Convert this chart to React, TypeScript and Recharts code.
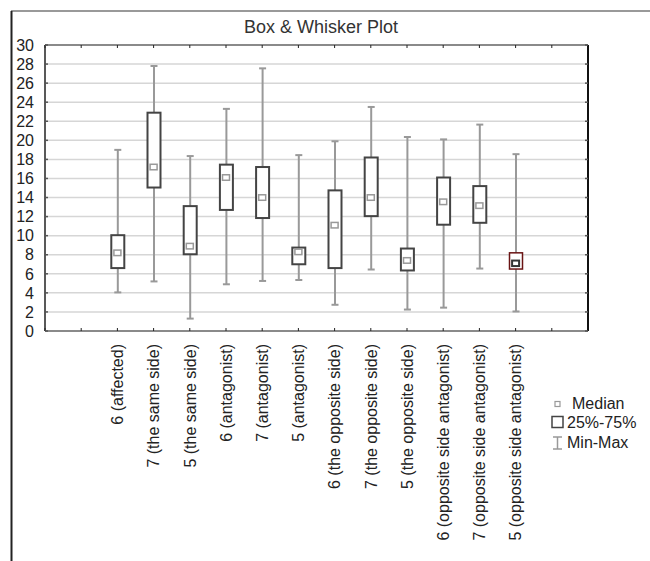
import React from 'react';
import { ComposedChart, Bar, Scatter, XAxis, YAxis, CartesianGrid } from 'recharts';

const categories = [
  '6 (affected)',
  '7 (the same side)',
  '5 (the same side)',
  '6 (antagonist)',
  '7 (antagonist)',
  '5 (antagonist)',
  '6 (the opposite side)',
  '7 (the opposite side)',
  '5 (the opposite side)',
  '6 (opposite side antagonist)',
  '7 (opposite side antagonist)',
  '5 (opposite side antagonist)',
];
const minValues = [4.05, 5.2, 1.3, 4.9, 5.25, 5.35, 2.75, 6.45, 2.25, 2.45, 6.55, 2.05];
const q1Values = [6.6, 15.05, 8.05, 12.7, 11.85, 7.0, 6.6, 12.05, 6.35, 11.15, 11.35, 6.5];
const medianValues = [8.2, 17.2, 8.9, 16.1, 14.0, 8.3, 11.1, 14.0, 7.4, 13.55, 13.15, 7.1];
const q3Values = [10.05, 22.9, 13.1, 17.45, 17.2, 8.75, 14.75, 18.2, 8.65, 16.1, 15.2, 8.2];
const maxValues = [19.0, 27.8, 18.35, 23.3, 27.55, 18.45, 19.9, 23.5, 20.35, 20.1, 21.65, 18.55];
const yTicks = [0, 2, 4, 6, 8, 10, 12, 14, 16, 18, 20, 22, 24, 26, 28, 30];
const leadingSlots = 2;
const xMax = categories.length + 3;
const xTicks = Array.from({ length: xMax + 1 }, (_, i) => i);
const highlightIndex = 11;

const data = categories.map((name, i) => ({
  pos: i + leadingSlots,
  name,
  range: [minValues[i], maxValues[i]],
  box: [q1Values[i], q3Values[i]],
  median: medianValues[i],
  highlight: i === highlightIndex,
}));

const FONT = '"Liberation Sans", Arial, sans-serif';

const Whisker = (p: any) => {
  const { x, y, width, height } = p;
  if (x == null || y == null) return null;
  const cx = x + width / 2;
  return (
    <g stroke="#999999" strokeWidth={2}>
      <line x1={cx} x2={cx} y1={y} y2={y + height} />
      <line x1={x} x2={x + width} y1={y} y2={y} />
      <line x1={x} x2={x + width} y1={y + height} y2={y + height} />
    </g>
  );
};

const BoxShape = (p: any) => {
  const { x, y, width, height, payload } = p;
  if (x == null || y == null) return null;
  const hl = payload && payload.highlight;
  return (
    <rect
      x={x}
      y={y}
      width={width}
      height={height}
      fill="#ffffff"
      stroke={hl ? '#6a1414' : '#444444'}
      strokeWidth={hl ? 1.5 : 2}
    />
  );
};

const MedianShape = (p: any) => {
  const { cx, cy, payload } = p;
  if (cx == null || cy == null) return null;
  const hl = payload && payload.highlight;
  return (
    <rect
      x={cx - 3.5}
      y={cy - 2.75}
      width={7}
      height={5.5}
      fill="#ffffff"
      stroke={hl ? '#333333' : '#999999'}
      strokeWidth={hl ? 2 : 1.5}
    />
  );
};

const BottomTick = (p: any) => {
  const { x, y, payload } = p;
  const label = categories[payload.value - leadingSlots];
  if (!label) return <g />;
  return (
    <text
      x={x}
      y={y}
      dy="0.36em"
      transform={`rotate(-90, ${x}, ${y})`}
      textAnchor="end"
      fontSize={16}
      fontFamily={FONT}
      fill="#222222"
    >
      {label}
    </text>
  );
};

const LeftTick = (p: any) => {
  const { x, y, payload } = p;
  return (
    <text x={x} y={y} dy="0.36em" textAnchor="end" fontSize={16} fontFamily={FONT} fill="#222222">
      {payload.value}
    </text>
  );
};

const EmptyTick = () => <g />;

export default function App() {
  return (
    <div style={{ position: 'absolute', left: 0, top: 0, width: 650, height: 561, background: '#fff', fontFamily: FONT }}>
      <div style={{ position: 'absolute', left: 0, top: 0 }}>
        <ComposedChart width={650} height={561} data={data} margin={{ top: 0, right: 0, bottom: 0, left: 0 }}>
          <CartesianGrid
            xAxisId="b"
            yAxisId="l"
            vertical={false}
            stroke="#d6d6d6"
            strokeWidth={1.5}
          />
          <XAxis
            xAxisId="b"
            dataKey="pos"
            type="number"
            domain={[0, xMax]}
            ticks={xTicks}
            interval={0}
            allowDataOverflow
            orientation="bottom"
            height={230}
            axisLine={{ stroke: '#8a8a8a', strokeWidth: 2 }}
            tickLine={{ stroke: '#222', strokeWidth: 1 }}
            tickSize={-3}
            tickMargin={16}
            tick={BottomTick}
          />
          <XAxis
            xAxisId="t"
            dataKey="pos"
            type="number"
            domain={[0, xMax]}
            ticks={xTicks}
            interval={0}
            allowDataOverflow
            orientation="top"
            height={45}
            axisLine={{ stroke: '#8a8a8a', strokeWidth: 2 }}
            tickLine={{ stroke: '#222', strokeWidth: 1 }}
            tickSize={-3}
            tick={EmptyTick}
          />
          <YAxis
            yAxisId="l"
            type="number"
            domain={[0, 30]}
            ticks={yTicks}
            interval={0}
            allowDataOverflow
            orientation="left"
            width={45}
            axisLine={{ stroke: '#222', strokeWidth: 1.5 }}
            tickLine={{ stroke: '#555', strokeWidth: 1.5 }}
            tickSize={-3}
            tickMargin={14}
            tick={LeftTick}
          />
          <YAxis
            yAxisId="r"
            type="number"
            domain={[0, 30]}
            ticks={yTicks}
            interval={0}
            allowDataOverflow
            orientation="right"
            width={62}
            axisLine={{ stroke: '#111', strokeWidth: 2 }}
            tickLine={{ stroke: '#555', strokeWidth: 1.5 }}
            tickSize={-3}
            tick={EmptyTick}
          />
          <Bar
            xAxisId="b"
            yAxisId="l"
            dataKey="range"
            barSize={7}
            shape={Whisker}
            isAnimationActive={false}
          />
          <Bar
            xAxisId="t"
            yAxisId="l"
            dataKey="box"
            barSize={13}
            shape={BoxShape}
            isAnimationActive={false}
          />
          <Scatter
            xAxisId="b"
            yAxisId="l"
            dataKey="median"
            shape={MedianShape}
            isAnimationActive={false}
          />
        </ComposedChart>
      </div>
      <svg
        width={650}
        height={561}
        style={{ position: 'absolute', left: 0, top: 0, pointerEvents: 'none' }}
      >
        <line x1={11} x2={650} y1={11} y2={11} stroke="#777" strokeWidth={1.5} />
        <line x1={11.5} x2={11.5} y1={11} y2={561} stroke="#222" strokeWidth={2} />
        <text x={321} y={33} textAnchor="middle" fontSize={18} fontFamily={FONT} fill="#333">
          Box &amp; Whisker Plot
        </text>
        <g fontSize={16} fontFamily={FONT} fill="#222">
          <rect x={555} y={401.5} width={5} height={5} fill="#fff" stroke="#999" strokeWidth={1.2} />
          <text x={572} y={409}>Median</text>
          <rect x={552} y={416.5} width={11} height={11} fill="#fff" stroke="#444" strokeWidth={1.5} />
          <text x={567} y={428}>25%-75%</text>
          <g stroke="#999" strokeWidth={1.5}>
            <line x1={557.5} x2={557.5} y1={437} y2={449} />
            <line x1={553} x2={562} y1={437} y2={437} />
            <line x1={553} x2={562} y1={449} y2={449} />
          </g>
          <text x={567} y={448}>Min-Max</text>
        </g>
      </svg>
    </div>
  );
}
